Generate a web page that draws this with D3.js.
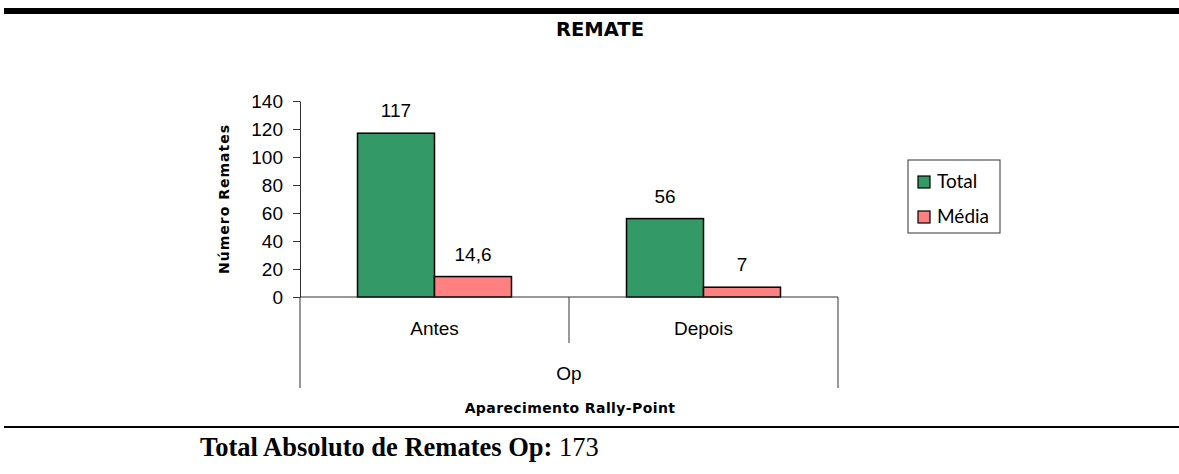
<!DOCTYPE html>
<meta charset="utf-8">
<head>
  <title>Remate</title>
  <style>
    body { margin: 0; background: #fff; }
  </style>
</head>
<body>
<script src="https://d3js.org/d3.v7.min.js"></script>
<script>
var WIDTH = 1179,
    HEIGHT = 474;

var categories = ["Antes", "Depois"];
var series = ["Total", "Média"];
var totalValues = [117, 56];
var mediaValues = [14.6, 7];
var valueLabels = [["117", "14,6"], ["56", "7"]];
var yTicks = [0, 20, 40, 60, 80, 100, 120, 140];
var colors = ["#339966", "#ff8080"];

var margin = {left: 300, top: 101, right: 341, bottom: 177};
var plotW = WIDTH - margin.left - margin.right,
    plotH = HEIGHT - margin.top - margin.bottom;

var svg = d3.select("body").append("svg")
    .attr("width", WIDTH)
    .attr("height", HEIGHT);

// page rules
svg.append("rect").attr("x", 4).attr("y", 8).attr("width", WIDTH - 4).attr("height", 6).attr("fill", "#000");
svg.append("rect").attr("x", 4).attr("y", 426).attr("width", WIDTH - 4).attr("height", 2).attr("fill", "#000");

svg.append("text")
    .attr("x", 600).attr("y", 36)
    .attr("text-anchor", "middle")
    .style("font-family", "DejaVu Sans")
    .style("font-weight", "bold")
    .style("font-size", "19.5px")
    .text("REMATE");

var g = svg.append("g").attr("transform", "translate(" + margin.left + "," + margin.top + ")");

var x0 = d3.scaleBand().domain(categories).range([0, plotW]);
var x1 = d3.scaleBand().domain(series).range([0, x0.bandwidth()]).paddingInner(0).paddingOuter(0.747);
var y = d3.scaleLinear().domain([0, 140]).range([plotH, 0]);

var rows = categories.map(function(c, i) {
  return {cat: c, vals: [totalValues[i], mediaValues[i]], labels: valueLabels[i]};
});

var groups = g.selectAll(".grp").data(rows).enter().append("g")
    .attr("transform", function(d) { return "translate(" + x0(d.cat) + ",0)"; });

groups.selectAll("rect").data(function(d) {
  return d.vals.map(function(v, j) { return {s: series[j], v: v, l: d.labels[j], c: colors[j]}; });
}).enter().append("rect")
    .attr("x", function(d) { return x1(d.s); })
    .attr("y", function(d) { return y(d.v); })
    .attr("width", x1.bandwidth())
    .attr("height", function(d) { return plotH - y(d.v); })
    .attr("fill", function(d) { return d.c; })
    .attr("stroke", "#000")
    .attr("stroke-width", 1.5);

groups.selectAll(".lbl").data(function(d) {
  return d.vals.map(function(v, j) { return {s: series[j], v: v, l: d.labels[j]}; });
}).enter().append("text")
    .attr("x", function(d) { return x1(d.s) + x1.bandwidth() / 2; })
    .attr("y", function(d) { return y(d.v) - 16; })
    .attr("text-anchor", "middle")
    .style("font-family", "Liberation Sans, Arial")
    .style("font-size", "19px")
    .text(function(d) { return d.l; });

// y axis
var yAxis = g.append("g")
    .call(d3.axisLeft(y).tickValues(yTicks).tickSize(7).tickPadding(10).tickSizeOuter(0));
yAxis.selectAll("text")
    .style("font-family", "Liberation Sans, Arial")
    .style("font-size", "19px")
    .attr("fill", "#000");
yAxis.selectAll("line").attr("stroke", "#333");
yAxis.select(".domain").attr("stroke", "#333");

// category axis with dividers
g.append("line").attr("x1", 0).attr("x2", plotW).attr("y1", plotH).attr("y2", plotH).attr("stroke", "#333");
[0, plotW].forEach(function(xx) {
  g.append("line").attr("x1", xx).attr("x2", xx).attr("y1", plotH).attr("y2", plotH + 91).attr("stroke", "#333");
});
g.append("line").attr("x1", x0("Depois")).attr("x2", x0("Depois")).attr("y1", plotH).attr("y2", plotH + 46).attr("stroke", "#333");

g.selectAll(".cat").data(categories).enter().append("text")
    .attr("x", function(d) { return x0(d) + x0.bandwidth() / 2; })
    .attr("y", plotH + 38)
    .attr("text-anchor", "middle")
    .style("font-family", "Liberation Sans, Arial")
    .style("font-size", "19px")
    .text(function(d) { return d; });

g.append("text")
    .attr("x", plotW / 2).attr("y", plotH + 83)
    .attr("text-anchor", "middle")
    .style("font-family", "Liberation Sans, Arial")
    .style("font-size", "19px")
    .text("Op");

g.append("text")
    .attr("x", plotW / 2 + 1).attr("y", plotH + 116)
    .attr("text-anchor", "middle")
    .style("font-family", "DejaVu Sans")
    .style("font-weight", "bold")
    .style("font-size", "14px")
    .style("letter-spacing", "0.4px")
    .text("Aparecimento Rally-Point");

g.append("text")
    .attr("transform", "translate(-71," + (plotH / 2) + ") rotate(-90)")
    .attr("text-anchor", "middle")
    .style("font-family", "DejaVu Sans")
    .style("font-weight", "bold")
    .style("font-size", "14px")
    .style("letter-spacing", "1px")
    .text("Número Remates");

// legend
var legend = svg.append("g").attr("transform", "translate(908,160)");
legend.append("rect").attr("width", 92).attr("height", 73).attr("fill", "#fff").attr("stroke", "#333");
series.forEach(function(s, i) {
  var ly = 22 + i * 35;
  legend.append("rect").attr("x", 10).attr("y", ly - 6).attr("width", 12).attr("height", 12)
      .attr("fill", colors[i]).attr("stroke", "#000").attr("stroke-width", 1.2);
  legend.append("text").attr("x", 29).attr("y", ly + 6)
      .style("font-family", "Lato")
      .style("font-size", "19px")
      .text(s);
});

// footer
var foot = svg.append("text")
    .attr("x", 200).attr("y", 456)
    .style("font-family", "Liberation Serif, Times New Roman")
    .style("font-size", "26.5px");
foot.append("tspan").style("font-weight", "bold").text("Total Absoluto de Remates Op: ");
foot.append("tspan").text("173");
</script>
</body>
